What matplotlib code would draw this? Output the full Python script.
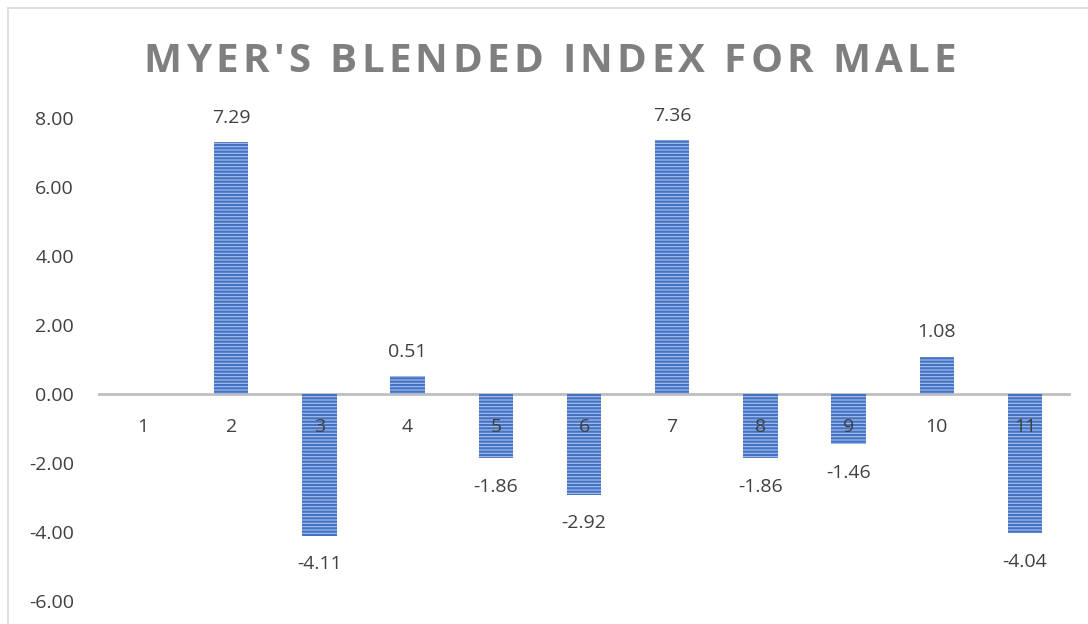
import numpy as np
import matplotlib.pyplot as plt
from matplotlib.patches import Rectangle

plt.rcParams['font.family'] = ['Open Sans', 'DejaVu Sans']
plt.rcParams['hatch.linewidth'] = 1.6

categories = ['1', '2', '3', '4', '5', '6', '7', '8', '9', '10', '11']
values = [0.0, 7.29, -4.11, 0.51, -1.86, -2.92, 7.36, -1.86, -1.46, 1.08, -4.04]
value_labels = ['', '7.29', '-4.11', '0.51', '-1.86', '-2.92', '7.36', '-1.86', '-1.46', '1.08', '-4.04']
yticks = [-6, -4, -2, 0, 2, 4, 6, 8]
title = "MYER'S BLENDED INDEX FOR MALE"

W, H = 1088, 624
fig = plt.figure(figsize=(W / 100, H / 100), dpi=100)
# plot area in pixels: x 99..1069, y(8)=118, y(-6)=601
ax = fig.add_axes([99 / W, (H - 601) / H, 970 / W, 483 / H])

x = np.arange(1, len(values) + 1)
bars = ax.bar(x, values, width=0.39, color='#a9c1ea', edgecolor='#4472c4',
              linewidth=0, hatch='-----')

for xi, v, lab in zip(x, values, value_labels):
    if not lab:
        continue
    if v >= 0:
        ax.annotate(lab, (xi, v), xytext=(0, 11), textcoords='offset points',
                    ha='center', va='bottom', fontsize=14, color='#404040')
    else:
        ax.annotate(lab, (xi, v), xytext=(0, -14), textcoords='offset points',
                    ha='center', va='top', fontsize=14, color='#404040')

ax.set_xlim(0.5, len(values) + 0.5)
ax.set_ylim(-6, 8)
ax.set_yticks(yticks)
ax.set_yticklabels(['%.2f' % t for t in yticks])
ax.set_xticks(x)
ax.set_xticklabels(categories)

for s in ['top', 'right', 'left']:
    ax.spines[s].set_visible(False)
ax.spines['bottom'].set_position(('data', 0))
ax.spines['bottom'].set_color('#bfbfbf')
ax.spines['bottom'].set_linewidth(2)
ax.spines['bottom'].set_zorder(0.5)
ax.tick_params(axis='x', length=0, pad=17, labelsize=14, labelcolor='#404040')
ax.tick_params(axis='y', length=0, pad=18, labelsize=14, labelcolor='#404040')
for t in ax.get_xticklabels():
    t.set_zorder(5)

# title with letter spacing, one character at a time
renderer = fig.canvas.get_renderer()
spacing = 4.3  # px between letters
chars = []
widths = []
for c in title:
    t = fig.text(0, 0, c, fontsize=29, fontweight='bold', color='#7f7f7f', va='center')
    w = t.get_window_extent(renderer).width
    if c == ' ':
        t2 = fig.text(0, 0, 'a a', fontsize=29, fontweight='bold')
        t3 = fig.text(0, 0, 'aa', fontsize=29, fontweight='bold')
        w = t2.get_window_extent(renderer).width - t3.get_window_extent(renderer).width
        t2.remove()
        t3.remove()
    chars.append(t)
    widths.append(w)
total = sum(widths) + spacing * (len(chars) - 1)
xpos = 550 - total / 2
for t, w in zip(chars, widths):
    t.set_position((xpos / W, 1 - 61 / H))
    xpos += w + spacing

# chart border
fig.patches.append(Rectangle((8 / W, -0.1), 1.2, 1 - 8 / H + 0.1, transform=fig.transFigure,
                             fill=False, edgecolor='#d9d9d9', linewidth=1.2))

fig.savefig('out.png', dpi=100)
